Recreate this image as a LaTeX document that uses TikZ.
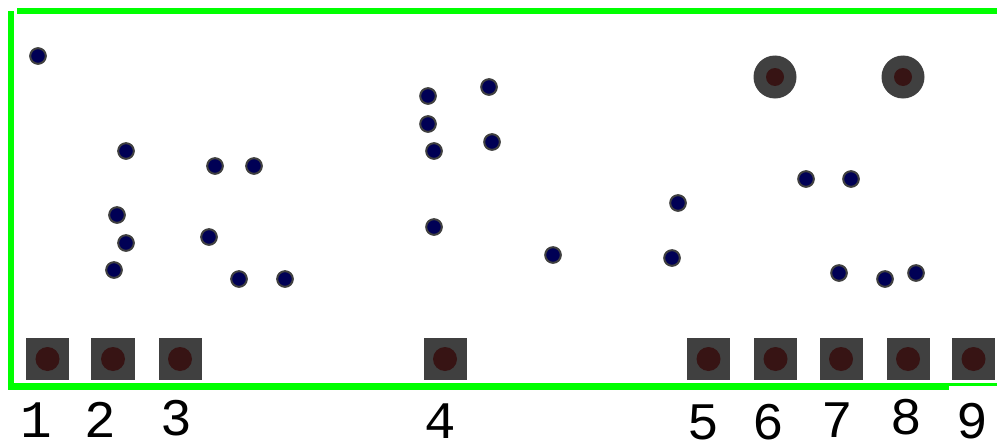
\documentclass[tikz,border=0pt]{standalone}
\usepackage{fontspec}
\usepackage{tikz}
\usepackage{xcolor}
\usetikzlibrary{positioning}
\newfontfamily\slotfont{Liberation Mono}
\definecolor{framegreen}{RGB}{0,255,0}
\definecolor{padgray}{RGB}{64,64,64}
\definecolor{holered}{RGB}{55,20,20}
\definecolor{beadnavy}{RGB}{0,0,85}

\begin{document}
\begin{tikzpicture}[
    x=0.03cm, y=-0.03cm,
    padbox/.style={rectangle, fill=padgray, inner sep=0, minimum width=1.29cm, minimum height=1.26cm},
    padhole/.style={circle, fill=holered, inner sep=0, minimum size=0.72cm},
    socket/.style={circle, fill=padgray, inner sep=0, minimum size=1.29cm},
    sockethole/.style={circle, fill=holered, inner sep=0, minimum size=0.54cm},
    bead/.style={circle, fill=beadnavy, draw=padgray, line width=0.06cm, inner sep=0, minimum size=0.47cm},
    slotnum/.style={font=\slotfont\fontsize{45}{46}\selectfont, inner sep=0}
]
    \useasboundingbox (0,0) rectangle (997,448);

    % frame
    \coordinate (topleft) at (17,11);
    \coordinate (topright) at (997,11);
    \coordinate (sidetop) at (11,11);
    \coordinate (sidebottom) at (11,390);
    \coordinate (baseleft) at (8,386.5);
    \coordinate (basemid) at (949,386.5);
    \coordinate (thinleft) at (949,384.5);
    \coordinate (thinright) at (997,384.5);
    \draw[framegreen, line width=0.18cm] (topleft) -- (topright);
    \draw[framegreen, line width=0.18cm] (sidetop) -- (sidebottom);
    \draw[framegreen, line width=0.21cm] (baseleft) -- (basemid);
    \draw[framegreen, line width=0.09cm] (thinleft) -- (thinright);

    % pads along the bottom
    \node[padbox] (pad1) at (47.5,359) {};
    \node[padbox] (pad2) at (113,359) {};
    \node[padbox] (pad3) at (180,359) {};
    \node[padbox] (pad4) at (445,359) {};
    \node[padbox] (pad5) at (708.5,359) {};
    \node[padbox] (pad6) at (775.5,359) {};
    \node[padbox] (pad7) at (841,359) {};
    \node[padbox] (pad8) at (908,359) {};
    \node[padbox] (pad9) at (973.5,359) {};
    \node[padhole] (hole1) at (pad1) {};
    \node[padhole] (hole2) at (pad2) {};
    \node[padhole] (hole3) at (pad3) {};
    \node[padhole] (hole4) at (pad4) {};
    \node[padhole] (hole5) at (pad5) {};
    \node[padhole] (hole6) at (pad6) {};
    \node[padhole] (hole7) at (pad7) {};
    \node[padhole] (hole8) at (pad8) {};
    \node[padhole] (hole9) at (pad9) {};

    % numbers
    \node[slotnum] (num1) at (36,420) {1};
    \node[slotnum] (num2) at (100,420) {2};
    \node[slotnum] (num3) at (176,418) {3};
    \node[slotnum] (num4) at (440,421) {4};
    \node[slotnum] (num5) at (703,422) {5};
    \node[slotnum] (num6) at (768,422) {6};
    \node[slotnum] (num7) at (837,420) {7};
    \node[slotnum] (num8) at (906,417) {8};
    \node[slotnum] (num9) at (972,421) {9};

    % sockets
    \node[socket] (sockA) at (775,77) {};
    \node[socket] (sockB) at (903,77) {};
    \node[sockethole] (sockAhole) at (sockA) {};
    \node[sockethole] (sockBhole) at (sockB) {};

    % beads
    \node[bead] (b1) at (38,56) {};
    \node[bead] (b2) at (126,151) {};
    \node[bead] (b3) at (117,215) {};
    \node[bead] (b4) at (126,243) {};
    \node[bead] (b5) at (114,270) {};
    \node[bead] (b6) at (215,166) {};
    \node[bead] (b7) at (254,166) {};
    \node[bead] (b8) at (209,237) {};
    \node[bead] (b9) at (239,279) {};
    \node[bead] (b10) at (285,279) {};
    \node[bead] (b11) at (428,96) {};
    \node[bead] (b12) at (428,124) {};
    \node[bead] (b13) at (434,151) {};
    \node[bead] (b14) at (434,227) {};
    \node[bead] (b15) at (489,87) {};
    \node[bead] (b16) at (492,142) {};
    \node[bead] (b17) at (553,255) {};
    \node[bead] (b18) at (678,203) {};
    \node[bead] (b19) at (672,258) {};
    \node[bead] (b20) at (806,179) {};
    \node[bead] (b21) at (851,179) {};
    \node[bead] (b22) at (839,273) {};
    \node[bead] (b23) at (885,279) {};
    \node[bead] (b24) at (916,273) {};
\end{tikzpicture}
\end{document}
